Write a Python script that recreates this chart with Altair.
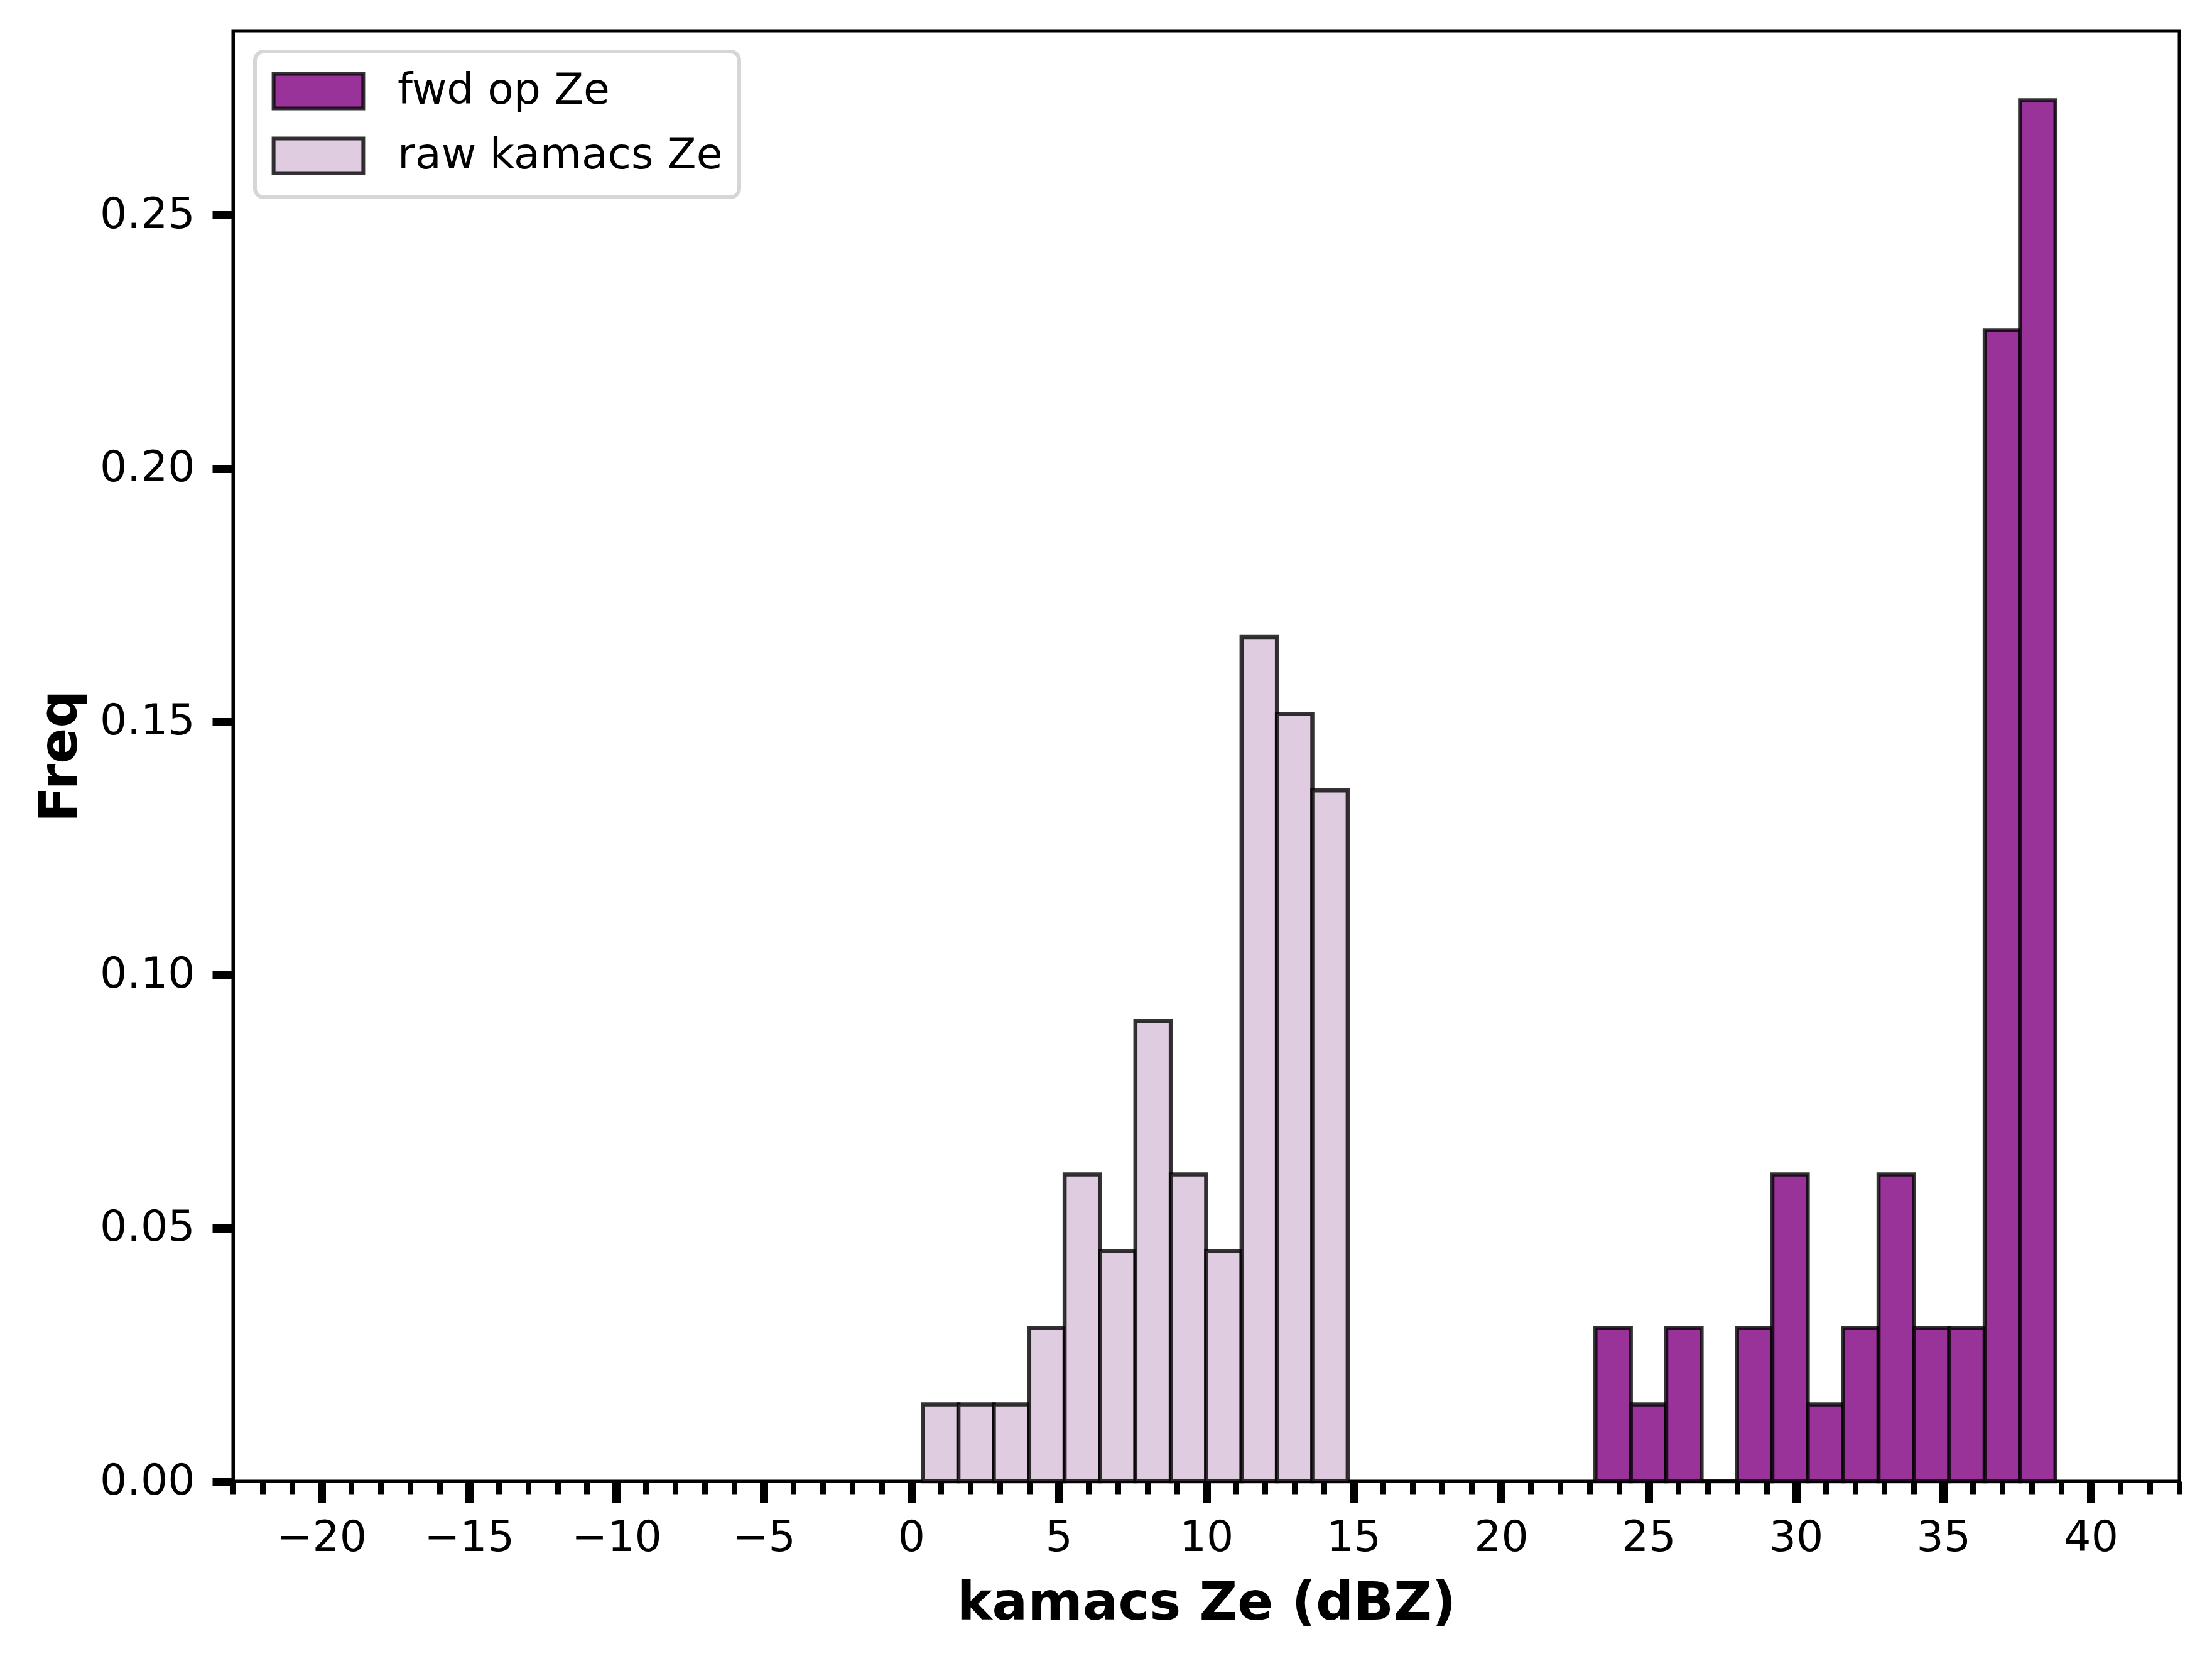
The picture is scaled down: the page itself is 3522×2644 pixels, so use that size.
import altair as alt
import pandas as pd

# ---- data ----
bin_width = 1.2
raw_bin_left = [0.4, 1.6, 2.8, 4.0, 5.2, 6.4, 7.6, 8.8, 10.0, 11.2, 12.4, 13.6]
raw_freq = [0.0152, 0.0152, 0.0152, 0.0303, 0.0606, 0.0455, 0.0909, 0.0606,
            0.0455, 0.1667, 0.1515, 0.1364]
fwd_bin_left = [23.2, 24.4, 25.6, 26.8, 28.0, 29.2, 30.4, 31.6, 32.8, 34.0,
                35.2, 36.4, 37.6]
fwd_freq = [0.0303, 0.0152, 0.0303, 0.0, 0.0303, 0.0606, 0.0152, 0.0303,
            0.0606, 0.0303, 0.0303, 0.2273, 0.2727]
series_names = ["fwd op Ze", "raw kamacs Ze"]
series_colors = ["#993399", "#e0cce0"]
x_major_ticks = list(range(-20, 41, 5))
x_minor_ticks = [v for v in range(-23, 44) if v % 5 != 0]
y_ticks = [0.0, 0.05, 0.10, 0.15, 0.20, 0.25]
x_domain = [-23, 43]
y_domain = [0, 0.2864]

rows = []
for s, f in zip(raw_bin_left, raw_freq):
    rows.append({"series": "raw kamacs Ze", "start": s, "end": s + bin_width, "freq": f})
for s, f in zip(fwd_bin_left, fwd_freq):
    rows.append({"series": "fwd op Ze", "start": s, "end": s + bin_width, "freq": f})
df = pd.DataFrame(rows)

FONT = "DejaVu Sans"
W, H = 3099, 2309

xscale = alt.Scale(domain=x_domain, nice=False, zero=False)
yscale = alt.Scale(domain=y_domain, nice=False, zero=True)

legend = alt.Legend(
    title=None, orient="none", legendX=35, legendY=33, direction="vertical",
    fillColor="white", strokeColor="#d6d6d6", cornerRadius=14,
    padding=26, labelFontSize=68, labelFont=FONT, labelColor="black",
    labelLimit=2000, labelOffset=89,
    symbolType="M-2.1,-0.81H2.1V0.81H-2.1Z", symbolSize=4624, symbolOffset=38,
    symbolStrokeWidth=6, symbolStrokeColor="rgba(0,0,0,0.8)", symbolOpacity=1,
)
color = alt.Color("series:N", scale=alt.Scale(domain=series_names, range=series_colors),
                  legend=legend)

bar_style = dict(stroke="black", strokeOpacity=0.8, strokeWidth=6.5)

major_x_axis = alt.Axis(
    values=x_major_ticks, format="d", orient="bottom", tickSize=34, tickWidth=13,
    labelFontSize=68, labelPadding=22, labelFont=FONT,
    title="kamacs Ze (dBZ)", titleFontSize=84, titleFontWeight="bold", titleFont=FONT,
    titleX=W / 2, titleY=219, titleBaseline="alphabetic", titleAlign="center",
    domainWidth=5, labelFlush=False,
)
minor_x_axis = alt.Axis(
    values=x_minor_ticks, orient="bottom", tickSize=20, tickWidth=9,
    labels=False, title=None, domain=False,
)
y_axis = alt.Axis(
    values=y_ticks, format=".2f", tickSize=33, tickWidth=13,
    labelFontSize=68, labelPadding=28, labelFont=FONT,
    title="Freq", titleFontSize=84, titleFontWeight="bold", titleFont=FONT,
    titleAngle=270, titleX=-250, titleY=H / 2, titleBaseline="alphabetic",
    titleAlign="center", domainWidth=5,
)

raw_layer = alt.Chart(df).transform_filter(
    alt.datum.series == "raw kamacs Ze"
).mark_bar(**bar_style).encode(
    x=alt.X("start:Q", scale=xscale, axis=major_x_axis),
    x2="end:Q",
    y=alt.Y("freq:Q", scale=yscale, axis=y_axis),
    y2=alt.datum(0),
    color=color,
)

fwd_layer = alt.Chart(df).transform_filter(
    alt.datum.series == "fwd op Ze"
).mark_bar(**bar_style).encode(
    x=alt.X("start:Q", scale=xscale, axis=minor_x_axis),
    x2="end:Q",
    y=alt.Y("freq:Q", scale=yscale, axis=y_axis),
    y2=alt.datum(0),
    color=color,
)

chart = alt.layer(raw_layer, fwd_layer).resolve_axis(x="independent").properties(
    width=W, height=H,
    autosize=alt.AutoSizeParams(type="none"),
    padding={"left": 363, "top": 41, "right": 40, "bottom": 270},
).configure_view(
    stroke="black", strokeWidth=5
).configure_axis(
    domainColor="black", tickColor="black", labelColor="black", titleColor="black",
    grid=False,
).configure_legend(
    strokeWidth=6, rowPadding=23,
)

chart.save("out.html", embed_options={"renderer": "svg", "actions": False})
